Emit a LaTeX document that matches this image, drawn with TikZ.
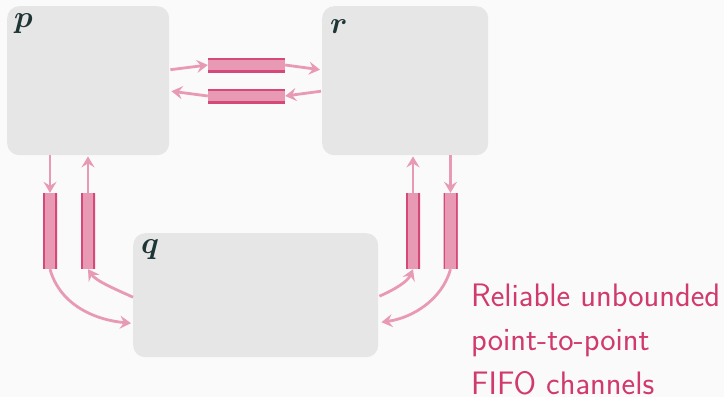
\RequirePackage{fix-cm}
\documentclass[tikz,border=0pt]{standalone}
\usepackage{fontspec}
\usepackage{bm}
\usetikzlibrary{arrows.meta,calc}

\definecolor{bg}{HTML}{FAFAFA}
\definecolor{boxgray}{HTML}{E6E6E6}
\definecolor{chanfill}{HTML}{E89AB4}
\definecolor{chanedge}{HTML}{D4487A}
\definecolor{flowpink}{HTML}{E89AB4}
\definecolor{labeldark}{HTML}{1E3535}
\definecolor{notepink}{HTML}{D03A6C}

\tikzset{
  process/.style={rectangle, rounded corners=12pt, fill=boxgray, inner sep=0pt, anchor=north west},
  plabel/.style={anchor=base west, inner sep=0pt, text=labeldark, font=\fontsize{31}{36}\selectfont},
  chanbase/.style={rectangle, inner sep=0pt, fill=chanfill},
  hchan/.style={chanbase, minimum width=77pt, minimum height=14pt,
    path picture={\draw[chanedge, line width=3.5pt]
      (path picture bounding box.north west) -- (path picture bounding box.north east)
      (path picture bounding box.south west) -- (path picture bounding box.south east);}},
  vchan/.style={chanbase, minimum width=14pt, minimum height=76pt,
    path picture={\draw[chanedge, line width=3.5pt]
      (path picture bounding box.north west) -- (path picture bounding box.south west)
      (path picture bounding box.north east) -- (path picture bounding box.south east);}},
  flow/.style={draw=flowpink, line width=2.8pt,
    -{Stealth[length=11pt, width=13pt, inset=4pt]}},
  note/.style={anchor=base west, inner sep=0pt, text=notepink,
    font=\sffamily\fontsize{32.5}{44}\selectfont},
}

\begin{document}
\begin{tikzpicture}[x=1pt, y=-1pt]
  % canvas
  \fill[bg] (0,0) rectangle (724,397);
  \useasboundingbox (0,0) rectangle (724,397);

  % processes
  \node[process, minimum width=162pt, minimum height=149pt] (p) at (7,6) {};
  \node[process, minimum width=166pt, minimum height=149pt] (r) at (322,6) {};
  \node[process, minimum width=245pt, minimum height=124pt] (q) at (133,233) {};
  \node[plabel] (pl) at (14,27) {$\bm{p}$};
  \node[plabel] (rl) at (330,33) {$\bm{r}$};
  \node[plabel] (ql) at (141,253) {$\bm{q}$};

  % channels
  \node[hchan] (pr) at (246.5,65) {};
  \node[hchan] (rp) at (246.5,96) {};
  \node[vchan] (pq) at (50,231) {};
  \node[vchan] (qp) at (88,231) {};
  \node[vchan] (qr) at (413,231) {};
  \node[vchan] (rq) at (450.5,231) {};

  % p <-> r
  \draw[flow] ($(p.east)+(1,-11)$) -- (pr.west);
  \draw[flow] (pr.east) -- ($(r.west)+(-2,-11)$);
  \draw[flow] ($(r.west)+(-1,10.5)$) -- (rp.east);
  \draw[flow] (rp.west) -- ($(p.east)+(2,10.5)$);

  % p <-> q
  \draw[flow] (pq.north |- p.south) -- (pq.north);
  \draw[flow] (qp.north) -- ($(qp.north |- p.south)+(0,1)$);
  \draw[flow] (pq.south) .. controls (60,305) and (95,320) .. ($(q.west)+(-2,28)$);
  \draw[flow] ($(q.west)+(0,2)$) .. controls (115,289) and (96,281) .. (qp.south);

  % q <-> r
  \draw[flow] (qr.north) -- ($(qr.north |- r.south)+(0,1)$);
  \draw[flow] (rq.north |- r.south) -- (rq.north);
  \draw[flow] ($(q.east)+(1,1)$) .. controls (396,289) and (408,281) .. (qr.south);
  \draw[flow] (rq.south) .. controls (442,300) and (412,318) .. ($(q.east)+(3,27)$);

  % caption
  \node[note] (n1) at (471,306) {Reliable unbounded};
  \node[note] (n2) at (471,350) {point-to-point};
  \node[note] (n3) at (471,394) {FIFO channels};
\end{tikzpicture}
\end{document}
